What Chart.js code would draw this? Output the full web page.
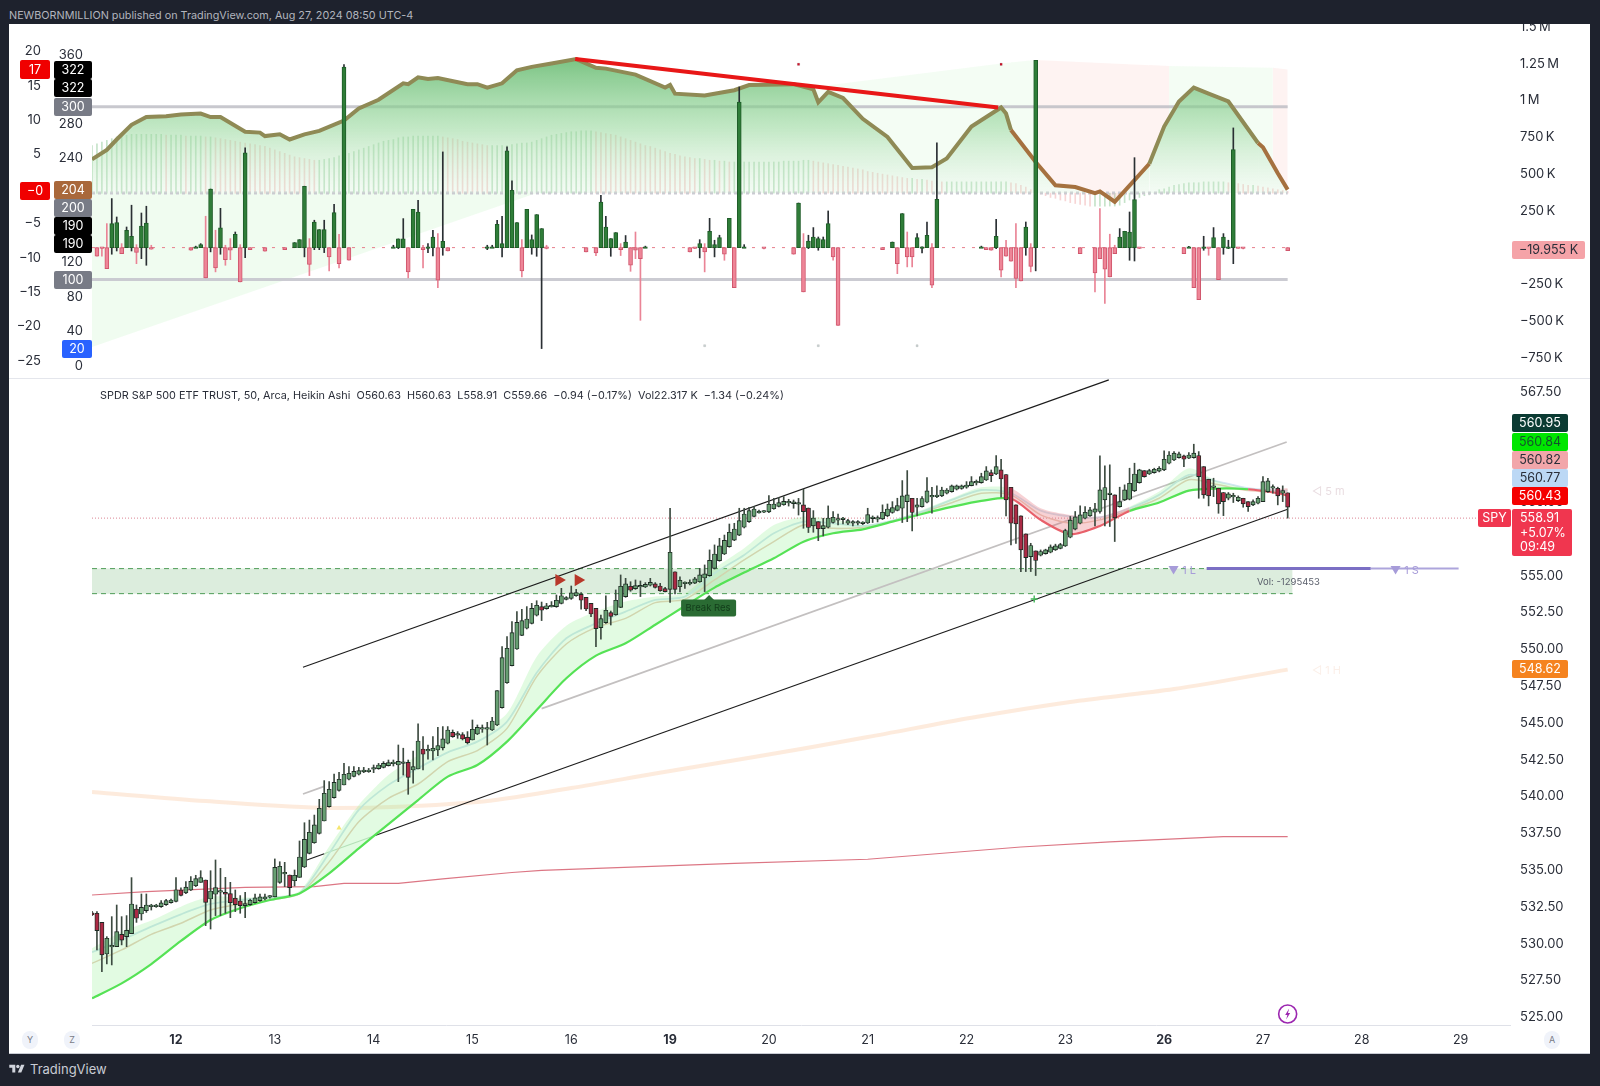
<!DOCTYPE html>
<html>
<head>
<meta charset="utf-8">
<title>SPY 50m</title>
<script src="https://cdn.jsdelivr.net/npm/chart.js@4/dist/chart.umd.js"></script>
<style>
  html, body { margin: 0; padding: 0; background: #1e222d; }
  body { width: 1600px; height: 1086px; position: relative; overflow: hidden; font-family: Inter, sans-serif; }
  #card { position: absolute; left: 9px; top: 24px; width: 1581px; height: 1029px; background: #fff; border-bottom: 1px solid #c9ccd4; }
  .pane { position: absolute; left: 9px; }
  #sep { position: absolute; left: 9px; top: 378px; width: 1581px; height: 1px; background: #e4e6ec; z-index: 3; }
  #head { position: absolute; left: 9px; top: 9px; font-size: 10.8px; line-height: 14px; color: #b2b5be; white-space: nowrap; }
  #legend { position: absolute; left: 100px; top: 388px; font-size: 10.85px; line-height: 14px; color: #2a2e39; white-space: pre; z-index: 3; }
  .btn { position: absolute; top: 1031px; width: 16px; height: 18px; border-radius: 8px; background: #f0f3fa; color: #787b86; font-size: 9px; line-height: 18px; text-align: center; z-index: 3; }
  #logo { position: absolute; left: 9px; top: 1063px; width: 16px; height: 12px; }
  #brand { position: absolute; left: 30px; top: 1061px; font-size: 13px; line-height: 16px; color: #c9ccd4; }
</style>
</head>
<body>
<div id="card"></div>
<div id="head">NEWBORNMILLION published on TradingView.com, Aug 27, 2024 08:50 UTC-4</div>
<div class="pane" style="top:24px"><canvas id="topPane" width="1581" height="355"></canvas></div>
<div id="sep"></div>
<div class="pane" style="top:379px"><canvas id="mainPane" width="1581" height="674"></canvas></div>
<div id="legend">SPDR S&amp;P 500 ETF TRUST, 50, Arca, Heikin Ashi  O560.63  H560.63  L558.91  C559.66  −0.94 (−0.17%)  Vol22.317 K  −1.34 (−0.24%)</div>
<div class="btn" style="left:22px">Y</div>
<div class="btn" style="left:64px">Z</div>
<div class="btn" style="left:1544px">A</div>
<svg id="logo" viewBox="0 0 36 28"><path fill="#d1d4dc" d="M14 22H7V11H0V4h14v18zM28 22h-8l7.5-18h8L28 22z"/><circle fill="#d1d4dc" cx="20" cy="8" r="4"/></svg>
<div id="brand">TradingView</div>

<script>
// x axis is bar number, 20 bars a day
const dayBars = [17, 37, 57, 77, 97, 117, 137, 157, 177, 197, 217, 237, 257, 277];
const dayLabels = ['12', '13', '14', '15', '16', '19', '20', '21', '22', '23', '26', '27', '28', '29'];
const boldDays = ['12', '19', '26'];

// Heikin Ashi bars: open, high, low, close
const candleRows = [
  [532.10,532.20,531.90,531.95],[532.07,532.18,529.58,530.89],[531.45,531.45,528.10,529.24],[529.30,530.48,528.63,530.37],[529.78,531.84,528.56,529.84],
  [529.80,532.63,529.80,530.82],[530.64,531.84,529.92,530.25],[530.48,531.91,529.80,530.91],[530.69,534.49,530.69,532.70],[532.36,532.63,531.45,531.73],
  [532.02,533.38,531.61,532.47],[532.25,533.38,532.13,532.63],[532.52,532.68,532.29,532.58],[532.52,532.68,532.47,532.61],[532.52,532.93,532.47,532.77],
  [532.66,533.02,532.61,532.93],[532.79,533.04,532.75,532.97],[532.88,534.49,532.84,533.67],[533.65,533.79,533.24,533.29],[533.45,534.22,533.40,533.85],
  [533.65,534.56,533.61,534.24],[533.94,534.65,533.88,534.42],[534.17,534.96,534.17,534.49],[534.33,534.33,531.23,532.81],[533.04,534.96,531.00,533.58],
  [533.36,535.69,531.91,533.81],[533.50,535.12,531.91,533.57],[533.49,534.51,532.07,533.36],[533.40,534.17,531.77,532.79],[533.09,533.65,532.18,532.66],
  [532.90,533.27,532.07,532.59],[532.59,533.49,531.77,532.72],[532.66,533.04,532.61,532.95],[532.79,533.38,532.75,533.11],[532.93,533.38,532.88,533.18],
  [533.04,533.38,532.97,533.18],[533.16,533.27,533.09,533.20],[533.18,535.76,533.18,535.19],[534.17,535.57,534.10,535.26],[534.74,535.53,533.88,534.78],
  [534.67,534.67,533.27,533.81],[534.28,535.01,533.92,534.65],[534.51,536.98,534.51,535.89],[535.21,538.22,535.17,537.09],[536.14,538.40,536.10,537.57],
  [536.86,538.74,536.82,538.07],[537.50,539.81,537.45,539.20],[538.34,541.08,538.34,540.22],[539.31,541.01,539.27,540.49],[539.92,541.53,539.88,540.96],
  [540.42,541.64,540.37,541.17],[540.78,542.25,540.78,541.51],[541.17,542.03,541.12,541.58],[541.37,542.03,541.33,541.71],[541.51,541.98,541.46,541.76],
  [541.67,541.98,541.62,541.80],[541.69,541.91,541.64,541.80],[541.85,542.14,541.62,541.89],[541.89,542.25,541.85,542.14],[541.98,542.37,541.94,542.25],
  [542.10,542.48,542.07,542.30],[542.23,542.48,542.07,542.27],[542.14,543.50,541.01,542.39],[542.24,543.28,541.46,542.28],[542.32,542.48,540.15,541.30],
  [541.80,543.09,540.90,542.03],[541.87,544.93,541.87,543.77],[543.23,544.07,541.80,542.87],[543.10,543.50,542.53,543.14],[543.09,544.07,542.48,543.28],
  [543.16,544.70,542.78,543.46],[543.30,544.75,543.16,543.91],[543.62,544.75,543.57,544.52],[544.36,544.52,544.02,544.07],[544.16,544.41,543.95,544.20],
  [544.20,544.34,543.84,543.91],[544.02,544.41,543.57,543.66],[543.84,545.20,543.84,544.57],[544.25,544.86,544.20,544.70],[544.57,544.86,544.36,544.61],
  [544.57,545.04,543.50,544.61],[544.52,545.38,544.48,545.13],[544.86,547.19,544.81,547.19],[546.04,550.18,546.00,549.43],[547.73,550.86,547.69,550.07],
  [548.89,551.88,548.87,551.13],[550.02,552.56,550.00,551.83],[550.95,552.72,550.93,551.95],[551.43,552.90,551.38,552.06],[551.76,553.12,551.72,552.78],
  [552.31,553.30,552.26,552.99],[552.90,553.21,551.95,552.65],[552.76,553.12,552.72,552.96],[552.88,553.24,552.87,552.92],[552.90,553.69,552.85,553.33],
  [553.12,554.14,553.08,553.64],[553.39,553.58,553.35,553.51],[553.46,554.30,553.39,553.83],[553.64,554.07,553.60,553.85],[553.73,553.85,552.72,553.33],
  [553.53,553.53,552.63,552.74],[553.12,553.12,552.22,552.40],[552.78,552.78,550.18,551.40],[551.47,552.33,550.68,552.08],[551.81,553.64,551.76,552.65],
  [552.49,552.60,551.65,552.24],[552.35,554.03,552.31,553.33],[552.85,555.05,552.83,554.28],[553.58,554.82,553.53,554.44],[554.28,554.59,553.94,554.01],
  [554.12,554.71,554.07,554.32],[554.23,554.64,553.58,554.27],[554.23,554.53,554.19,554.41],[554.35,554.82,554.30,554.55],[554.44,554.53,554.16,554.21],
  [554.30,554.48,553.94,553.98],[554.12,554.21,553.89,553.92],[554.07,559.58,553.19,556.59],[555.27,555.27,553.76,554.07],[554.25,554.93,553.89,554.69],
  [554.46,554.59,554.14,554.50],[554.44,554.71,554.37,554.55],[554.50,554.89,554.46,554.78],[554.59,555.50,554.55,555.05],[554.84,555.73,553.92,555.12],
  [555.00,556.75,554.96,556.04],[555.50,557.09,555.45,556.47],[556.02,557.54,555.98,557.02],[556.47,557.76,556.43,557.40],[556.97,558.51,556.93,557.95],
  [557.42,558.56,557.38,558.17],[557.76,559.58,557.72,558.74],[558.29,559.58,558.24,559.19],[558.67,559.64,558.62,559.42],[559.03,559.69,558.99,559.53],
  [559.26,559.46,559.24,559.39],[559.31,559.42,559.28,559.35],[559.33,560.44,559.28,559.85],[559.55,560.25,559.51,559.87],[559.71,560.32,559.67,559.96],
  [559.82,560.37,559.78,560.05],[559.94,560.19,559.73,559.98],[559.90,560.14,559.58,559.94],[559.85,560.25,559.12,559.89],[559.81,560.87,558.22,559.35],
  [559.60,559.60,557.93,558.27],[558.38,559.42,557.95,558.92],[558.67,558.67,557.38,558.18],[558.20,558.90,557.70,558.40],[558.29,559.74,558.24,558.92],
  [558.61,559.35,558.56,558.97],[558.77,559.19,558.45,558.81],[558.81,558.97,558.52,558.85],[558.56,558.83,558.47,558.74],[558.56,558.74,558.38,558.60],
  [558.56,558.74,558.45,558.60],[558.54,558.67,558.47,558.58],[558.58,559.58,558.54,559.15],[558.88,559.06,558.61,558.92],[558.84,559.06,558.65,558.88],
  [558.86,559.81,558.81,559.31],[559.06,559.87,559.01,559.53],[559.29,560.03,559.24,559.62],[559.44,560.26,559.40,559.76],[559.58,561.46,558.61,560.42],
  [560.03,562.14,558.67,560.49],[560.26,560.26,558.04,559.29],[559.65,560.26,559.06,559.81],[559.69,560.37,559.65,560.24],[559.99,561.66,559.94,560.76],
  [560.35,561.01,559.24,560.39],[560.37,561.10,560.30,560.41],[560.42,561.01,560.37,560.82],[560.60,560.92,560.55,560.82],[560.71,561.16,560.67,561.10],
  [560.87,561.16,560.82,561.10],[560.92,561.16,560.87,561.10],[561.01,561.39,560.94,561.16],[561.12,561.73,561.10,561.39],[561.30,561.50,561.16,561.34],
  [561.32,561.96,561.28,561.73],[561.50,562.41,561.46,562.12],[562.00,562.18,561.39,561.80],[561.91,563.16,561.87,562.41],[562.19,562.91,560.33,561.57],
  [561.87,561.87,559.06,560.15],[561.01,561.01,557.09,558.56],[559.81,559.81,557.20,558.52],[559.06,559.06,555.28,556.75],[557.84,557.84,555.28,556.23],
  [556.30,557.20,555.28,557.05],[556.68,556.68,555.01,556.03],[556.39,556.75,556.34,556.64],[556.50,556.80,556.46,556.75],[556.59,557.09,556.55,556.96],
  [556.75,557.14,556.71,557.02],[556.86,557.20,556.82,557.11],[557.02,558.16,556.98,558.07],[557.61,559.02,557.57,558.77],[558.16,559.36,558.11,558.99],
  [558.56,559.74,558.52,559.13],[558.90,559.69,558.86,559.31],[559.06,559.65,559.02,559.47],[559.31,559.92,558.38,559.54],[559.36,563.14,559.24,560.83],
  [560.15,562.46,558.38,560.99],[560.51,562.53,558.34,560.55],[560.49,560.49,557.32,558.93],[559.69,561.01,559.65,560.03],[560.15,561.17,560.10,560.83],
  [560.19,562.30,560.15,561.28],[560.76,562.64,560.71,561.91],[561.32,562.23,561.28,562.19],[562.14,562.14,561.69,561.73],[561.91,562.23,561.87,562.14],
  [562.00,562.30,561.96,562.23],[562.10,562.41,562.05,562.30],[562.19,563.48,562.14,562.91],[562.64,563.43,562.59,563.20],[562.86,563.43,562.82,563.32],
  [563.02,563.39,562.98,563.27],[563.14,563.20,562.41,562.91],[562.98,563.36,562.95,563.20],[563.02,563.93,562.98,563.32],[563.16,563.43,560.26,561.73],
  [562.41,562.41,560.26,560.49],[561.55,561.55,559.74,560.42],[560.99,561.62,560.37,561.03],[560.94,560.94,559.24,559.88],[560.65,560.65,559.08,560.03],
  [560.26,560.65,560.15,560.56],[560.35,560.60,559.97,560.39],[560.10,560.42,560.03,560.33],[560.26,560.26,559.65,559.88],[560.03,560.03,559.36,559.69],
  [559.81,560.15,559.76,560.03],[559.92,560.37,559.88,560.26],[560.03,561.73,560.03,561.39],[560.71,561.62,560.65,561.44],[560.94,561.17,560.60,561.01],
  [560.94,561.01,559.81,560.42],[560.60,561.10,560.03,560.78],[560.63,560.63,558.91,559.66]
];

// moving average ribbon, read every 6 bars
const ribbonBars = [0,6,12,18,24,30,36,42,48,54,60,66,72,78,84,90,96,102,108,114,120,126,132,138,144,150,156,162,168,174,180,186,192,198,204,210,216,222,228,234,240,242];
const ribbonLow = [526.29,527.31,528.62,530.19,531.61,532.41,532.97,533.42,534.78,536.48,538.13,539.76,541.35,542.14,543.73,545.88,548.03,549.57,550.41,551.67,552.94,554.19,555.21,556.18,557.31,557.88,558.15,558.67,559.19,559.67,560.08,560.24,558.79,557.82,558.38,559.40,559.97,560.78,560.92,560.87,560.60,560.43];
const ribbonTop = [529.69,530.82,531.57,532.52,533.20,533.13,533.20,533.58,536.60,539.43,541.46,542.78,543.73,544.29,545.65,549.50,551.60,552.56,553.24,553.58,553.80,555.50,556.86,558.44,559.01,558.83,558.45,558.79,559.47,560.26,561.00,560.94,559.58,559.13,559.02,559.69,560.71,562.30,561.39,560.94,560.87,560.95];
const ribbonBlue = [529.42,530.25,531.16,532.00,532.70,532.97,533.13,533.42,536.14,539.09,540.79,541.92,543.00,543.73,545.09,548.40,550.75,551.76,552.56,553.35,553.58,555.16,556.41,557.88,558.67,558.56,558.38,558.74,559.35,560.15,560.82,560.60,559.42,559.02,558.97,559.58,560.49,561.85,561.39,560.94,560.78,560.77];
const ribbonTan = [528.67,529.58,530.64,531.39,532.29,532.70,532.97,533.38,535.56,538.29,539.88,540.85,542.37,543.12,544.63,548.14,550.36,551.49,552.10,553.17,553.39,554.71,556.07,557.31,558.44,558.22,558.29,558.72,559.31,559.96,560.60,560.49,559.13,558.56,558.79,559.47,560.26,561.51,561.17,560.78,560.69,560.82];

const slowBars = [0,23,48,78,97,114,134,157,178,198,219,242];
const slowLine = [540.31,539.69,539.22,539.63,540.58,541.56,542.68,544.04,545.35,546.42,547.30,548.62];
const longBars = [0,11,31,45,51,62,71,85,91,130,157,188,206,229,242];
const longLine = [533.31,533.54,533.83,533.88,534.10,534.10,534.40,534.84,534.98,535.46,535.74,536.57,536.92,537.27,537.27];

// drawn channel, x and price of each end plus the stretches where it is washed out
const channelTopBars = [42.7, 205.8];
const channelTopPrices = [548.78, 568.30];
const channelLowBars = [43.5, 47, 57.3, 242];
const channelLowPrices = [535.69, 536.11, 537.35, 559.51];
const channelMidBars = [42.7, 47, 91, 241.8];
const channelMidPrices = [540.17, 540.69, 545.97, 564.08];

const zoneHigh = 555.48, zoneLow = 553.78, zoneEndBar = 243;
const lastPrice = 558.91;
const targetBars = [225.6, 258.8, 276.6];

// volume delta candles in thousands: bar, body end, high, low
const volumeRows = [
  [1,-59,0,-59],[2,-10,0,-59],[3,-143,163,-143],[4,163,333,-45],[5,170,208,-23],[6,-41,27,-41],[7,118,140,0],[8,77,288,-23],[9,-32,20,-109],[10,147,235,-75],
  [11,167,281,-120],[12,-11,16,-11],[20,-18,0,-18],[21,6,10,0],[22,20,27,0],[23,-206,213,-206],[24,398,398,-29],[25,-138,118,-165],[26,134,267,-45],[27,-82,16,-120],
  [28,-18,61,-82],[29,91,106,0],[30,-233,20,-233],[31,643,677,-68],[32,-14,0,-14],[35,-25,0,-25],[39,-14,0,-14],[41,34,34,0],[42,54,54,0],[43,417,417,-63],
  [44,-115,61,-190],[45,174,186,-14],[46,122,122,-14],[47,122,186,-34],[48,-63,0,-158],[49,238,294,0],[50,-109,91,-138],[51,1227,1243,0],[52,-86,0,-86],[61,10,16,0],
  [62,59,59,-7],[63,59,197,0],[64,-165,0,-206],[65,260,260,0],[66,242,321,0],[67,-14,16,-138],[68,3,27,-34],[69,72,118,-57],[70,-222,95,-272],[71,43,650,-52],
  [72,-23,0,-23],[80,3,16,-14],[81,5,16,0],[82,158,186,0],[83,27,213,-63],[84,657,684,0],[85,389,453,0],[86,170,170,0],[87,-158,54,-199],[88,260,260,0],
  [89,54,86,-45],[90,224,224,-59],[91,129,129,-686],[92,-9,16,-9],[100,-29,0,-29],[102,-36,0,-54],[103,310,355,0],[104,140,213,0],[105,61,61,-59],[106,102,102,0],
  [107,-14,27,-54],[108,38,82,0],[109,-120,0,-161],[110,-18,106,-75],[111,-75,0,-494],[112,8,10,0],[121,-29,0,-29],[122,-7,0,-7],[123,27,54,-70],[124,-29,27,-165],
  [125,111,199,0],[126,20,50,-63],[127,68,84,0],[128,-45,0,-86],[129,199,199,0],[130,-272,0,-272],[131,989,1091,0],[132,8,20,0],[136,-9,0,-9],[142,-45,0,-45],
  [143,303,303,0],[144,-301,95,-301],[145,45,84,-7],[146,72,136,0],[147,61,72,-18],[148,54,72,0],[149,163,249,0],[150,-63,0,-86],[151,-528,0,-528],[160,-14,0,-14],
  [162,38,38,0],[163,-109,0,-177],[164,231,231,0],[165,-63,106,-131],[166,-63,0,-131],[167,68,95,0],[168,5,5,-36],[169,84,174,0],[170,-256,27,-272],[171,328,711,0],
  [180,5,10,0],[181,-14,0,-14],[182,-18,0,-18],[183,77,192,-7],[184,-154,0,-199],[185,-59,50,-59],[186,-93,0,-93],[187,-210,163,-272],[188,-226,0,-226],[189,140,174,-52],
  [190,-127,27,-165],[191,1272,1272,-158],[200,-41,0,-41],[203,-172,0,-301],[204,-75,265,-75],[205,-147,0,-380],[206,-199,91,-199],[207,-41,16,-41],[208,72,129,0],[209,111,111,0],
  [210,106,242,-86],[211,326,611,-91],[212,-7,0,-7],[221,-41,0,-41],[222,4,8,0],[223,-272,0,-272],[224,-353,0,-353],[225,5,77,-18],[226,-5,0,-52],[227,68,136,0],
  [228,-217,0,-217],[229,72,95,-45],[230,2,50,-7],[231,666,813,-109],[232,-5,0,-5],[233,-9,0,-9],[242,-20,0,-20]
];

// oscillator line on the 0-360 scale
const oscBars = [0,3,5,8,11,15,18,22,24,26,31,34,35,38,40,43,46,51,54,58,63,64,66,68,70,76,78,80,83,86,89,93,98,102,104,110,116,117,118,124,130,133,142,146,147,149,152,156,161,166,170,173,178,184,185,186,191,195,199,203,204,207,211,214,217,220,223,226,230,236,237,240,242];
const oscLine = [239,250,262,279,288,289,291,292,288,288,271,270,266,268,262,268,272,284,298,308,327,326,334,332,333,326,326,322,327,342,346,350,355,345,344,337,322,325,315,313,319,325,326,320,305,317,310,286,265,229,230,240,277,299,292,273,236,209,207,200,202,190,215,234,277,306,322,315,306,258,253,223,204];

// pale histogram around the 200 level, one per bar
const histLine = [
  255,257,259,261,263,265,266,267,268,268,268,268,268,268,268,267,267,267,267,266,
  266,266,266,265,265,264,263,262,261,260,259,258,257,256,255,254,252,250,248,246,
  244,242,241,240,239,238,238,239,240,241,243,244,246,248,250,252,254,256,258,260,
  261,262,264,265,265,266,266,266,266,266,266,265,264,263,262,260,259,258,257,256,
  255,255,255,255,255,256,257,258,258,259,261,263,265,267,268,269,270,271,271,272,
  272,272,271,270,269,268,267,265,263,261,259,257,255,254,252,250,248,246,245,243,
  242,241,240,240,239,238,238,237,237,236,236,236,236,236,236,236,236,236,236,236,
  237,237,237,237,238,238,237,236,235,234,233,232,231,230,229,228,227,225,224,223,
  222,221,220,219,218,217,217,216,216,215,214,214,213,213,213,213,213,213,213,213,
  213,213,213,213,213,213,212,211,209,207,204,202,199,197,195,194,192,191,189,188,
  187,186,185,185,185,185,185,185,186,189,192,194,195,197,198,200,204,205,207,209,
  210,211,212,212,212,213,213,213,213,213,212,212,211,210,209,209,208,207,206,205,
  204,203,202
];

const wedgeBars = [0, 90];
const wedgeLine = [22, 200];
const ceilingBars = [145, 184, 191, 218, 239, 242];
const ceilingLine = [322, 350, 354, 347, 345, 343];
const trendBars = [97.8, 183.4];
const trendLine = [355, 299];
const upperDots = [143, 184];
const lowerDots = [124, 147, 167];

const pts = (xs, ys) => xs.map((x, i) => ({ x, y: ys[i] }));
const font = size => ({ family: 'Inter, sans-serif', size });
const inRange = (x, ranges) => ranges.some(r => x >= r[0] && x < r[1]);
const noGrid = { display: false, drawTicks: false };

// the panes have fixed top and bottom edges, undo what tick label overhang took off
function fixedEdges(bottom) {
  return {
    id: 'fixedEdges',
    afterLayout(chart) {
      const area = chart.chartArea;
      area.top = 0;
      area.bottom = bottom;
      area.height = bottom;
      Object.values(chart.scales).forEach(s => {
        if (s.isHorizontal()) return;
        s.top = 0;
        s.bottom = bottom;
        s.height = bottom;
        s.configure();
      });
    }
  };
}

function lineSet(xs, ys, color, width, order, yAxisID, extra) {
  return Object.assign({
    type: 'line', data: pts(xs, ys), borderColor: color, borderWidth: width,
    pointRadius: 0, fill: false, order, yAxisID, xAxisID: 'x'
  }, extra || {});
}

// small filled rectangle with centered text, used for all the scale tags
function tag(ctx, x0, y0, x1, y1, bg, fg, text) {
  ctx.fillStyle = bg;
  ctx.beginPath();
  ctx.roundRect(x0, y0, x1 - x0, y1 - y0, 2);
  ctx.fill();
  ctx.fillStyle = fg;
  ctx.textAlign = 'center';
  ctx.textBaseline = 'middle';
  ctx.font = '12.5px Inter, sans-serif';
  ctx.fillText(text, (x0 + x1) / 2, (y0 + y1) / 2 + 0.5);
}

// --- top pane ---
const topTags = {
  id: 'topTags',
  afterDraw(chart) {
    const c = chart.ctx, ox = 9, oy = 24;
    const put = (x0, y0, x1, y1, bg, fg, t) => tag(c, x0 - ox, y0 - oy, x1 - ox, y1 - oy, bg, fg, t);
    put(20, 60, 50, 79, '#f00000', '#fff', '17');
    put(20, 182, 50, 200, '#f00000', '#fff', '−0');
    put(54, 61, 92, 79, '#000', '#fff', '322');
    put(54, 79, 92, 97, '#000', '#fff', '322');
    put(54, 98, 92, 116, '#787b86', '#fff', '300');
    put(54, 181, 92, 199, '#a9683b', '#fff', '204');
    put(54, 199, 92, 217, '#787b86', '#fff', '200');
    put(54, 217, 92, 235, '#000', '#fff', '190');
    put(54, 235, 92, 253, '#000', '#fff', '190');
    put(54, 271, 92, 289, '#787b86', '#fff', '100');
    put(62, 340, 92, 358, '#2962ff', '#fff', '20');
    put(1512, 241, 1585, 259, '#f5a3a8', '#2a2e39', '−19.955 K');
  }
};

const oscGreen = '#8f8a55', oscBrown = '#a5713f';
const topData = [];
topData.push(lineSet(wedgeBars, wedgeLine, 'transparent', 0, 30, 'yB', {
  fill: { target: { value: 200 } }, backgroundColor: 'rgba(120,225,120,0.11)'
}));
topData.push(lineSet(oscBars, oscLine, oscGreen, 4, 6, 'yB', {
  fill: { target: { value: 200 }, below: 'rgba(240,150,150,0.10)' },
  backgroundColor(ctx) {
    // 355 and 200 on the oscillator scale, in canvas pixels
    const g = ctx.chart.ctx.createLinearGradient(0, 35, 0, 169);
    g.addColorStop(0, 'rgba(100,185,110,0.85)');
    g.addColorStop(0.5, 'rgba(150,215,155,0.6)');
    g.addColorStop(1, 'rgba(210,240,212,0.25)');
    return g;
  },
  segment: { borderColor: c => inRange(c.p0.parsed.x, [[186, 214], [232, 243]]) ? oscBrown : oscGreen }
}));
topData.push(lineSet(ceilingBars, ceilingLine, 'transparent', 0, 20, 'yB', {
  fill: { target: 1 }, backgroundColor: 'rgba(120,225,120,0.08)',
  segment: { backgroundColor: c => inRange(c.p0.parsed.x, [[191, 218], [239, 243]]) ? 'rgba(240,120,110,0.09)' : 'rgba(120,225,120,0.08)' }
}));
topData.push({
  type: 'bar', xAxisID: 'x', yAxisID: 'yB', order: 15, barThickness: 1, grouped: false,
  data: histLine.map((v, i) => ({ x: i, y: [200, v] })),
  backgroundColor: histLine.map((v, i) => (i === 0 || v >= histLine[i - 1]) ? 'rgba(110,185,120,0.4)' : 'rgba(235,150,150,0.4)')
});
topData.push(lineSet([0, 242], [300, 300], 'rgba(190,190,198,0.85)', 3, 12, 'yB'));
topData.push(lineSet([0, 242], [100, 100], 'rgba(200,200,208,0.95)', 3, 12, 'yB'));
topData.push(lineSet([0, 242], [200, 200], 'rgba(200,200,208,0.95)', 3, 12, 'yB', { borderDash: [3, 3] }));
topData.push(lineSet(trendBars, trendLine, '#e81717', 4, 1, 'yB'));
topData.push(lineSet([0, 242], [0, 0], '#e77f8d', 1, 5, 'yV', { borderDash: [3, 7] }));
topData.push({
  type: 'bar', xAxisID: 'x', yAxisID: 'yV', order: 4, barThickness: 1, grouped: false,
  data: volumeRows.map(r => ({ x: r[0], y: [r[3], r[2]] })),
  backgroundColor: volumeRows.map(r => r[1] >= 0 ? '#2a2f33' : '#ea8496')
});
topData.push({
  type: 'bar', xAxisID: 'x', yAxisID: 'yV', order: 3, barThickness: 4, grouped: false, minBarLength: 1.5,
  data: volumeRows.map(r => ({ x: r[0], y: [0, r[1]] })),
  backgroundColor: volumeRows.map(r => r[1] >= 0 ? '#2f7d38' : '#ee8597'),
  borderColor: volumeRows.map(r => r[1] >= 0 ? '#1e5c28' : '#d0566c'),
  borderWidth: 1, borderSkipped: false
});
topData.push({
  type: 'scatter', xAxisID: 'x', yAxisID: 'yB', order: 0,
  data: upperDots.map(x => ({ x, y: 349 })), pointStyle: 'rect', pointRadius: 1.6, backgroundColor: '#d0142c'
});
topData.push({
  type: 'scatter', xAxisID: 'x', yAxisID: 'yB', order: 0,
  data: lowerDots.map(x => ({ x, y: 23.5 })), pointStyle: 'rect', pointRadius: 1.4, backgroundColor: '#cfd8d8'
});

const signed = v => String(v).replace('-', '−');
new Chart(document.getElementById('topPane'), {
  type: 'bar',
  data: { datasets: topData },
  plugins: [fixedEdges(355), topTags],
  options: {
    responsive: false, animation: false, events: [],
    layout: { padding: 0 },
    plugins: { legend: { display: false }, tooltip: { enabled: false } },
    scales: {
      x: { type: 'linear', min: 0, max: 287, offset: false, display: false, grid: { display: false } },
      yA: {
        position: 'left', weight: 1, min: -27.62, max: 23.98,
        afterFit: s => { s.width = 41; },
        grid: noGrid, border: { display: false },
        ticks: { stepSize: 5, includeBounds: false, padding: 9, color: '#2a2e39', font: font(13), callback: signed }
      },
      yB: {
        position: 'left', weight: 0, min: -15, max: 395.6,
        afterFit: s => { s.width = 42; },
        grid: noGrid, border: { display: false },
        ticks: { stepSize: 40, includeBounds: false, padding: 9, color: '#2a2e39', font: font(13) }
      },
      yV: {
        position: 'right', min: -892.6, max: 1519,
        afterFit: s => { s.width = 80; },
        grid: noGrid, border: { display: false },
        ticks: {
          stepSize: 250, includeBounds: false, padding: 10, color: '#2a2e39', font: font(13),
          callback: v => {
            const a = Math.abs(v);
            const t = a >= 1000 ? (a / 1000) + '\u2009M' : a + '\u2009K';
            return (v < 0 ? '−' : '') + t;
          }
        }
      }
    }
  }
});

// --- price pane ---
const mainMarks = {
  id: 'mainMarks',
  afterDraw(chart) {
    const c = chart.ctx, ox = 9, oy = 379;
    const sx = chart.scales.x, sy = chart.scales.y;
    const put = (x0, y0, x1, y1, bg, fg, t) => tag(c, x0 - ox, y0 - oy, x1 - ox, y1 - oy, bg, fg, t);

    put(1512, 414, 1568, 432, '#0b3b33', '#fff', '560.95');
    put(1512, 433, 1568, 451, '#00e600', '#14532d', '560.84');
    put(1512, 451, 1568, 469, '#f2a6aa', '#2a2e39', '560.82');
    put(1512, 469, 1568, 487, '#bcd8f5', '#2a2e39', '560.77');
    // gap below the red tag shows the hidden 560.00 label
    put(1512, 487, 1568, 505, '#f50000', '#fff', '560.43');
    put(1478, 509, 1511, 527, '#f0364f', '#fff', 'SPY');
    c.fillStyle = '#f0364f';
    c.beginPath();
    c.roundRect(1512 - ox, 509 - oy, 60, 47, 2);
    c.fill();
    c.fillStyle = '#fff';
    c.textAlign = 'left';
    c.textBaseline = 'middle';
    c.font = '12.5px Inter, sans-serif';
    c.fillText('558.91', 1520 - ox, 518 - oy);
    c.fillText('+5.07%', 1520 - ox, 533 - oy);
    c.fillText('09:49', 1520 - ox, 547 - oy);
    put(1512, 660, 1568, 678, '#f5831f', '#fff', '548.62');

    // break label under the zone
    const bx = sx.getPixelForValue(124.9), by = sy.getPixelForValue(553.69);
    c.fillStyle = '#2a6b33';
    c.beginPath();
    c.moveTo(bx, by);
    c.lineTo(bx + 5, by + 5);
    c.lineTo(bx - 5, by + 5);
    c.closePath();
    c.fill();
    c.beginPath();
    c.roundRect(bx - 28, by + 4.5, 55, 17, 2);
    c.fill();
    c.fillStyle = '#123d1a';
    c.font = '9.5px Inter, sans-serif';
    c.textAlign = 'center';
    c.fillText('Break Res', bx - 1, by + 13.5);

    // faint labels
    c.textAlign = 'left';
    c.font = '11px Inter, sans-serif';
    c.fillStyle = '#e9dde1';
    c.fillText('◁ 5 m', 1312 - ox, 492 - oy);
    c.fillStyle = '#fbefe8';
    c.fillText('◁ 1 H', 1312 - ox, 671 - oy);
    c.fillStyle = '#a79cd9';
    c.fillText('▼ 1 L', 1168 - ox, 571 - oy);
    c.fillText('▼ 1 S', 1390 - ox, 571 - oy);
    c.fillStyle = '#5a5f6b';
    c.font = '9.5px Inter, sans-serif';
    c.fillText('Vol: -1295453', 1257 - ox, 582 - oy);

    // lightning badge at the last bar
    const lx = sx.getPixelForValue(242), ly = 1014 - oy;
    c.strokeStyle = '#9c27b0';
    c.lineWidth = 1.6;
    c.beginPath();
    c.arc(lx, ly, 9, 0, Math.PI * 2);
    c.stroke();
    c.fillStyle = '#9c27b0';
    c.beginPath();
    c.moveTo(lx + 1.5, ly - 5.5);
    c.lineTo(lx - 2.5, ly + 1);
    c.lineTo(lx - 0.3, ly + 1);
    c.lineTo(lx - 1.5, ly + 5.5);
    c.lineTo(lx + 2.5, ly - 1);
    c.lineTo(lx + 0.3, ly - 1);
    c.closePath();
    c.fill();
  }
};

const limeLine = '#55e255', redLine = '#e8606a';
const pinkRanges = [[186, 210], [234, 243]];
const mainData = [];
mainData.push(lineSet([0, zoneEndBar], [zoneLow, zoneLow], '#4f9d58', 1, 30, 'y', { borderDash: [5, 4] }));
mainData.push(lineSet([0, zoneEndBar], [zoneHigh, zoneHigh], '#4f9d58', 1, 30, 'y', {
  borderDash: [5, 4], fill: { target: 0 }, backgroundColor: 'rgba(70,160,75,0.19)'
}));
mainData.push(lineSet(longBars, longLine, '#dc7684', 1.2, 25, 'y'));
mainData.push(lineSet(slowBars, slowLine, 'rgba(252,222,198,0.6)', 4, 25, 'y', { tension: 0.3 }));
mainData.push(lineSet([0, 287], [lastPrice, lastPrice], '#dc8593', 1, 24, 'y', { borderDash: [1, 2] }));
mainData.push(lineSet(channelTopBars, channelTopPrices, '#1c1c1c', 1.1, 22, 'y'));
mainData.push(lineSet(channelMidBars, channelMidPrices, '#c3c0c0', 1.8, 22, 'y', {
  segment: { borderColor: c => inRange(c.p0.parsed.x, [[47, 91]]) ? 'transparent' : '#c3c0c0' }
}));
mainData.push(lineSet(channelLowBars, channelLowPrices, '#1c1c1c', 1.2, 22, 'y', {
  segment: { borderColor: c => inRange(c.p0.parsed.x, [[47, 57.3]]) ? 'rgba(110,170,120,0.4)' : '#1c1c1c' }
}));
mainData.push(lineSet(targetBars.slice(0, 2), [zoneHigh, zoneHigh], '#7b6fc4', 3, 21, 'y'));
mainData.push(lineSet(targetBars.slice(1), [zoneHigh, zoneHigh], '#ada5dc', 2, 21, 'y'));
const ribbonTopIndex = mainData.length;
mainData.push(lineSet(ribbonBars, ribbonTop, 'transparent', 0, 12, 'y', { tension: 0.25 }));
mainData.push(lineSet(ribbonBars, ribbonLow, limeLine, 2.2, 9, 'y', {
  tension: 0.25,
  fill: { target: ribbonTopIndex }, backgroundColor: 'rgba(110,235,110,0.2)',
  segment: {
    borderColor: c => inRange(c.p0.parsed.x, pinkRanges) ? redLine : limeLine,
    backgroundColor: c => inRange(c.p0.parsed.x, pinkRanges) ? 'rgba(225,90,100,0.28)' : 'rgba(110,235,110,0.2)'
  }
}));
mainData.push(lineSet(ribbonBars, ribbonBlue, '#d3e6f1', 1.8, 10, 'y', { tension: 0.25 }));
mainData.push(lineSet(ribbonBars, ribbonTan, '#ead0bf', 1.5, 10, 'y', { tension: 0.25 }));
mainData.push({
  type: 'scatter', xAxisID: 'x', yAxisID: 'y', order: 8,
  data: [{ x: 94.5, y: 554.7 }, { x: 98.4, y: 554.7 }],
  pointStyle: 'triangle', rotation: 90, pointRadius: 7, backgroundColor: '#b8372a', borderWidth: 0
});
mainData.push({
  type: 'scatter', xAxisID: 'x', yAxisID: 'y', order: 8,
  data: [{ x: 50, y: 537.86 }], pointStyle: 'triangle', pointRadius: 3, backgroundColor: '#f5e66e', borderWidth: 0
});
mainData.push({
  type: 'scatter', xAxisID: 'x', yAxisID: 'y', order: 8,
  data: [{ x: 190.7, y: 553.42 }], pointStyle: 'cross', pointRadius: 3.5, borderColor: '#45b85a', borderWidth: 1.4
});
mainData.push({
  type: 'bar', xAxisID: 'x', yAxisID: 'y', order: 3, barThickness: 1, grouped: false,
  data: candleRows.map((r, i) => ({ x: i, y: [r[2], r[1]] })),
  backgroundColor: '#3c4a40'
});
mainData.push({
  type: 'bar', xAxisID: 'x', yAxisID: 'y', order: 2, barThickness: 4.2, grouped: false, minBarLength: 1.6,
  data: candleRows.map((r, i) => ({ x: i, y: [r[0], r[3]] })),
  backgroundColor: candleRows.map(r => r[3] >= r[0] ? '#679f72' : '#ab2a45'),
  borderColor: '#1c2a22', borderWidth: 0.9, borderSkipped: false
});

new Chart(document.getElementById('mainPane'), {
  type: 'bar',
  data: { datasets: mainData },
  plugins: [fixedEdges(646), mainMarks],
  options: {
    responsive: false, animation: false, events: [],
    layout: { padding: { left: 83 } },
    plugins: { legend: { display: false }, tooltip: { enabled: false } },
    scales: {
      x: {
        type: 'linear', min: 0, max: 287, offset: false,
        afterFit: s => { s.height = 28; },
        afterBuildTicks: s => { s.ticks = dayBars.map(value => ({ value })); },
        grid: noGrid, border: { display: true, color: '#dfe1e8' },
        ticks: {
          autoSkip: false, maxRotation: 0, padding: 8, color: '#2a2e39',
          callback: v => dayLabels[dayBars.indexOf(v)],
          font: ctx => ({
            family: 'Inter, sans-serif', size: 12.5,
            weight: ctx.tick && boldDays.includes(dayLabels[dayBars.indexOf(ctx.tick.value)]) ? 'bold' : 'normal'
          })
        }
      },
      y: {
        position: 'right', min: 524.48, max: 568.36,
        afterFit: s => { s.width = 80; },
        grid: noGrid, border: { display: false },
        ticks: {
          stepSize: 2.5, includeBounds: false, padding: 10, color: '#2a2e39', font: font(13),
          callback: v => v.toFixed(2)
        }
      }
    }
  }
});
</script>
</body>
</html>
